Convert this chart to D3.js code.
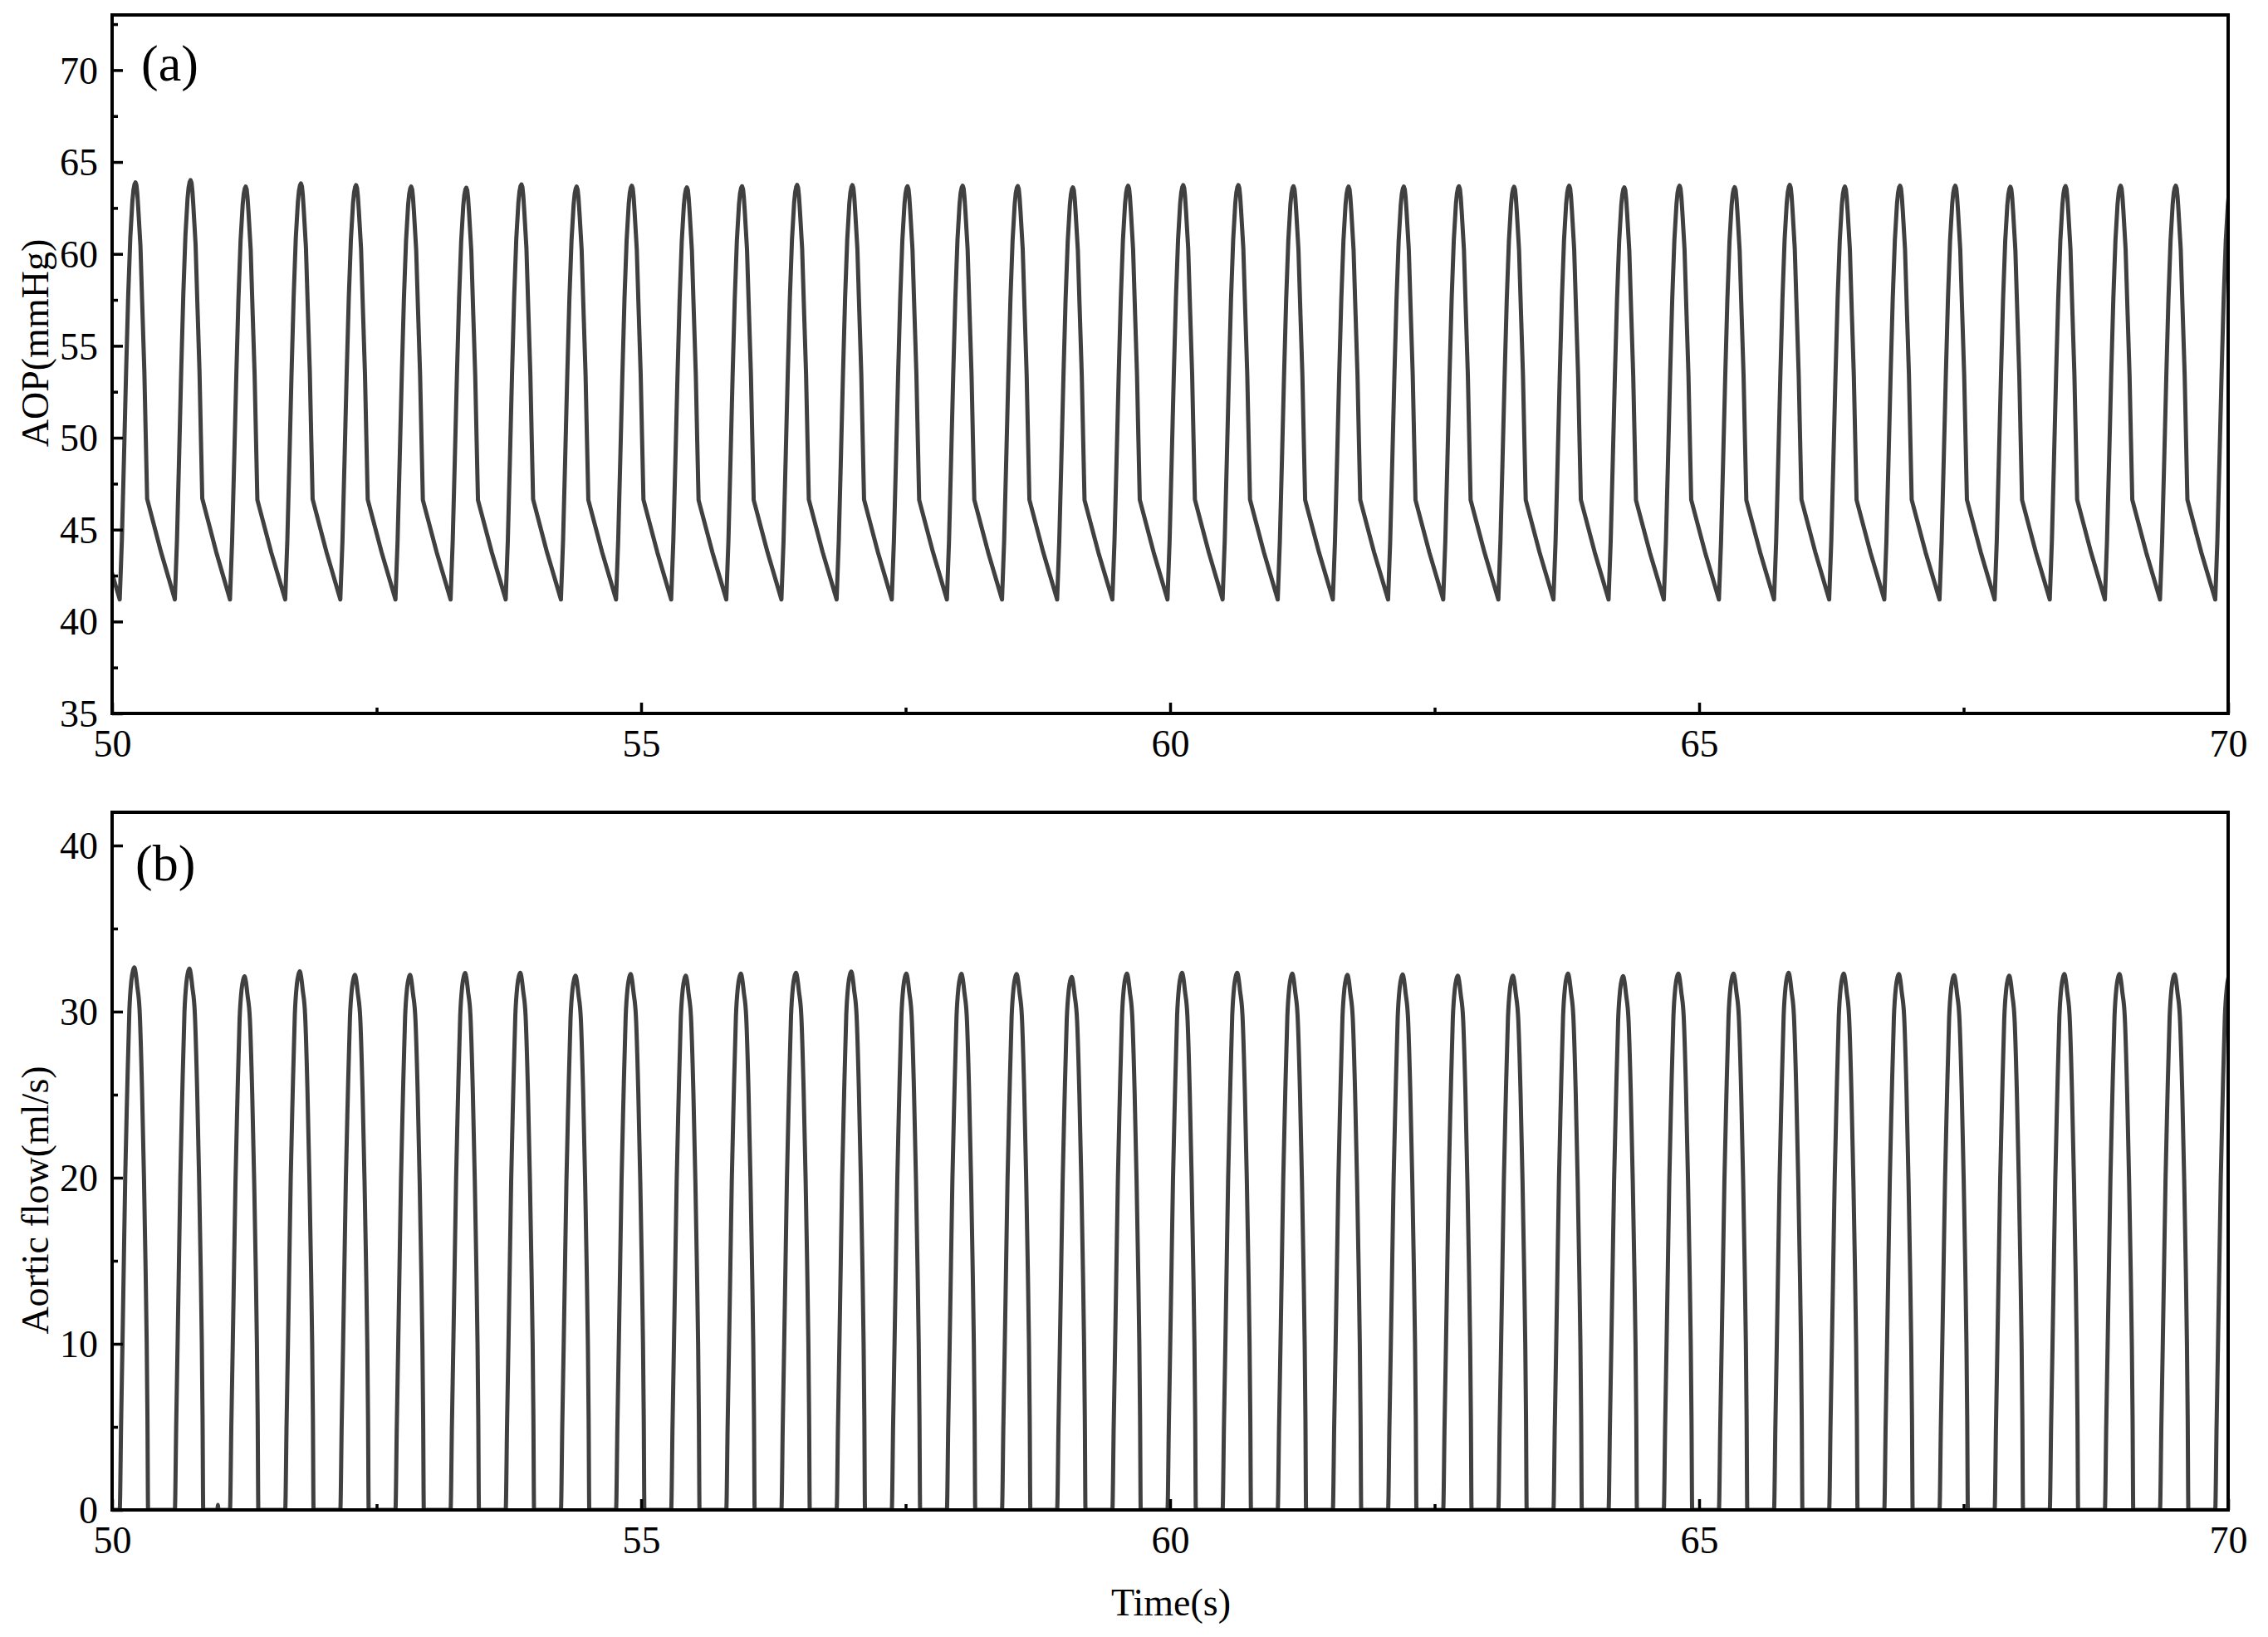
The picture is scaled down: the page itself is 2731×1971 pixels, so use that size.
<!DOCTYPE html>
<html>
<head>
<meta charset="utf-8">
<script src="https://cdn.jsdelivr.net/npm/d3@7"></script>
<style>
  html, body { margin: 0; padding: 0; background: #fff; }
  svg { display: block; }
  text { font-family: "Times New Roman", "Liberation Serif", serif; fill: #000; }
</style>
</head>
<body>
<svg id="chart" width="2731" height="1971"></svg>
<script>
// ---------------- data ----------------
const xTicks = [50, 55, 60, 65, 70];
const xMinorTicks = [52.5, 57.5, 62.5, 67.5];
const aopTicks = [35, 40, 45, 50, 55, 60, 65, 70];
const aopMinorTicks = [37.5, 42.5, 47.5, 52.5, 57.5, 62.5, 67.5, 72.5];
const flowTicks = [0, 10, 20, 30, 40];
const flowMinorTicks = [5, 15, 25, 35];

// start of ejection (aortic valve opening) of each beat, seconds
const beatOnsets = [49.551, 50.072, 50.593, 51.114, 51.636, 52.157, 52.678, 53.199, 53.720,
  54.242, 54.763, 55.284, 55.805, 56.326, 56.848, 57.369, 57.890, 58.411, 58.932,
  59.454, 59.975, 60.496, 61.017, 61.538, 62.060, 62.581, 63.102, 63.623, 64.144,
  64.666, 65.187, 65.708, 66.229, 66.750, 67.272, 67.793, 68.314, 68.835, 69.356, 69.878];
const beatLength = 0.5212;

// systolic peak of aortic pressure per beat (mmHg)
const aopPeaks = [63.70, 63.89, 64.01, 63.66, 63.83, 63.74, 63.66, 63.60, 63.78, 63.66, 63.71,
  63.62, 63.68, 63.75, 63.74, 63.68, 63.71, 63.69, 63.62, 63.71, 63.74, 63.74, 63.68,
  63.66, 63.66, 63.68, 63.65, 63.71, 63.62, 63.71, 63.63, 63.75, 63.66, 63.71, 63.71,
  63.65, 63.69, 63.71, 63.71, 63.70];

// peak aortic flow per beat (ml/s)
const flowPeaks = [32.25, 32.66, 32.59, 32.12, 32.42, 32.21, 32.21, 32.32, 32.34, 32.16, 32.26,
  32.16, 32.29, 32.34, 32.41, 32.29, 32.27, 32.26, 32.09, 32.29, 32.34, 32.34, 32.29,
  32.21, 32.24, 32.16, 32.16, 32.29, 32.14, 32.29, 32.29, 32.34, 32.29, 32.26, 32.19,
  32.16, 32.26, 32.26, 32.24, 32.25];

// shape of one beat: [seconds after onset, value] for a beat peaking at 64.0 mmHg
const aopBeatShape = [[0, 41.2], [0.02, 44.4], [0.04, 48.9], [0.06, 53.6], [0.08, 57.8],
  [0.10, 61.0], [0.12, 63.0], [0.13, 63.6], [0.14, 63.9], [0.149, 64.0], [0.158, 63.85],
  [0.166, 63.4], [0.175, 62.6], [0.196, 60.5], [0.2145, 57.0], [0.233, 53.6], [0.246, 50.1],
  [0.259, 46.7], [0.39, 43.8], [0.5212, 41.2]];
const aopShapeBase = 41.2, aopShapePeak = 64.0;

// shape of one beat of aortic flow for a beat peaking at 32.6 ml/s
const flowBeatShape = [[0, 0], [0.013, 5.2], [0.026, 10], [0.039, 15], [0.052, 20], [0.07, 25],
  [0.091, 30], [0.11, 31.8], [0.125, 32.4], [0.138, 32.6], [0.15, 32.3], [0.165, 31.5],
  [0.188, 30], [0.21, 25.5], [0.229, 20], [0.243, 15], [0.255, 10], [0.262, 5.5],
  [0.268, 0], [0.5212, 0]];
const flowShapePeak = 32.6;

// small isolated blip seen on the flow baseline
const flowBlips = [[50.995, 0], [51.0, 0.3], [51.005, 0]];

// ---------------- build series ----------------
const aopSeries = [];
const flowSeries = [];
beatOnsets.forEach((t0, k) => {
  const last = k === beatOnsets.length - 1;
  const aScale = (aopPeaks[k] - aopShapeBase) / (aopShapePeak - aopShapeBase);
  aopBeatShape.forEach(([dt, v], i) => {
    if (i === aopBeatShape.length - 1 && !last) return;
    aopSeries.push({ t: t0 + dt, v: aopShapeBase + (v - aopShapeBase) * aScale });
  });
  const fScale = flowPeaks[k] / flowShapePeak;
  flowBeatShape.forEach(([dt, v], i) => {
    if (i === flowBeatShape.length - 1 && !last) return;
    flowSeries.push({ t: t0 + dt, v: v * fScale });
  });
});
flowBlips.forEach(([t, v]) => flowSeries.push({ t, v }));
flowSeries.sort((a, b) => a.t - b.t);

// ---------------- layout ----------------
const svg = d3.select("#chart");
const left = 135, right = 2683;
const panels = [
  { id: "a", top: 18, bottom: 859, domain: [35, 73], ticks: aopTicks, minor: aopMinorTicks,
    data: aopSeries, label: "(a)", labelX: 170, labelY: 97, title: "AOP(mmHg)", titleY: 413,
    curve: d3.curveLinear },
  { id: "b", top: 978, bottom: 1818, domain: [0, 42], ticks: flowTicks, minor: flowMinorTicks,
    data: flowSeries, label: "(b)", labelX: 163, labelY: 1060, title: "Aortic flow(ml/s)", titleY: 1445,
    curve: d3.curveMonotoneX }
];

const x = d3.scaleLinear().domain([50, 70]).range([left, right]);
const FONT = 46;
const LINE_COLOR = "#404040";

panels.forEach(p => {
  const y = d3.scaleLinear().domain(p.domain).range([p.bottom, p.top]);
  const g = svg.append("g");

  g.append("clipPath").attr("id", "clip-" + p.id)
    .append("rect").attr("x", left).attr("y", p.top)
    .attr("width", right - left).attr("height", p.bottom - p.top);

  // data line
  const line = d3.line().x(d => x(d.t)).y(d => y(d.v)).curve(p.curve);
  g.append("path")
    .datum(p.data)
    .attr("clip-path", "url(#clip-" + p.id + ")")
    .attr("fill", "none")
    .attr("stroke", LINE_COLOR)
    .attr("stroke-width", 5)
    .attr("stroke-linejoin", "round")
    .attr("d", line);

  // y axis (ticks inward)
  const yAxis = d3.axisLeft(y).tickValues(p.ticks).tickSize(-13).tickPadding(30)
    .tickFormat(d3.format("d"));
  const ya = g.append("g").attr("transform", `translate(${left},0)`).call(yAxis);
  ya.select(".domain").remove();
  ya.selectAll(".tick line").attr("stroke", "#000").attr("stroke-width", 3.5);
  ya.selectAll(".tick text").attr("font-size", FONT).attr("font-family", "Times New Roman, Liberation Serif, serif")
    .attr("fill", "#000").attr("x", -17).attr("dy", "0.34em");
  const yMinor = d3.axisLeft(y).tickValues(p.minor).tickSize(-7).tickFormat("");
  const ym = g.append("g").attr("transform", `translate(${left},0)`).call(yMinor);
  ym.select(".domain").remove();
  ym.selectAll(".tick line").attr("stroke", "#000").attr("stroke-width", 3.5);

  // x axis (ticks inward)
  const xAxis = d3.axisBottom(x).tickValues(xTicks).tickSize(-13).tickPadding(0)
    .tickFormat(d3.format("d"));
  const xa = g.append("g").attr("transform", `translate(0,${p.bottom})`).call(xAxis);
  xa.select(".domain").remove();
  xa.selectAll(".tick line").attr("stroke", "#000").attr("stroke-width", 3.5);
  xa.selectAll(".tick text").attr("font-size", FONT).attr("font-family", "Times New Roman, Liberation Serif, serif")
    .attr("fill", "#000").attr("y", 52).attr("dy", 0);
  const xMinor = d3.axisBottom(x).tickValues(xMinorTicks).tickSize(-7).tickFormat("");
  const xm = g.append("g").attr("transform", `translate(0,${p.bottom})`).call(xMinor);
  xm.select(".domain").remove();
  xm.selectAll(".tick line").attr("stroke", "#000").attr("stroke-width", 3.5);

  // frame
  g.append("rect")
    .attr("x", left).attr("y", p.top)
    .attr("width", right - left).attr("height", p.bottom - p.top)
    .attr("fill", "none").attr("stroke", "#000").attr("stroke-width", 4);

  // panel label
  g.append("text").attr("x", p.labelX).attr("y", p.labelY)
    .attr("font-size", 62).text(p.label);

  // y title
  g.append("text")
    .attr("transform", `translate(58,${p.titleY}) rotate(-90)`)
    .attr("text-anchor", "middle")
    .attr("font-size", FONT)
    .text(p.title);
});

// x title
svg.append("text").attr("x", 1410).attr("y", 1945)
  .attr("text-anchor", "middle").attr("font-size", FONT).text("Time(s)");
</script>
</body>
</html>
